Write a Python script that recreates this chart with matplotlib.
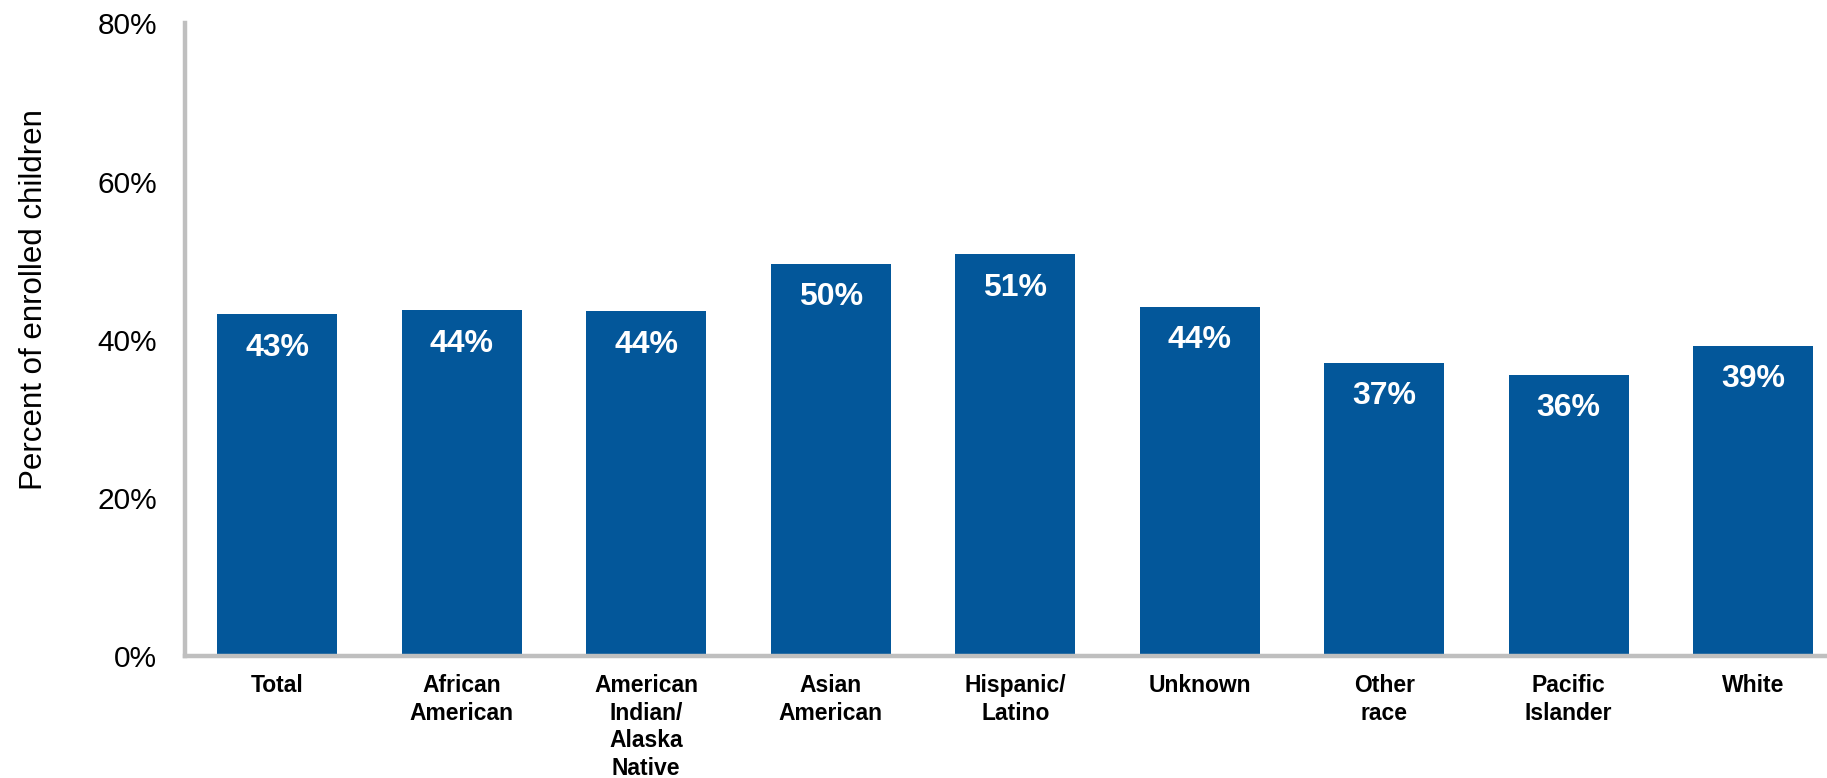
import matplotlib.pyplot as plt
from matplotlib.ticker import FuncFormatter

plt.rcParams["font.family"] = ["Liberation Sans", "DejaVu Sans"]

# Share of enrolled children, by race/ethnicity
categories = [
    "Total",
    "African\nAmerican",
    "American\nIndian/\nAlaska\nNative",
    "Asian\nAmerican",
    "Hispanic/\nLatino",
    "Unknown",
    "Other\nrace",
    "Pacific\nIslander",
    "White",
]
percent = [43.2, 43.7, 43.6, 49.6, 50.8, 44.2, 37.1, 35.6, 39.2]
yticks = [0, 20, 40, 60, 80]

bar_color = "#03579A"
axis_gray = "#BFBFBF"

fig = plt.figure(figsize=(18.27, 7.78), dpi=100)
ax = fig.add_axes([185 / 1827, 0.1568, 1 - 185 / 1827, 0.813])

x = range(len(categories))
bars = ax.bar(x, percent, width=0.65, color=bar_color, zorder=2)

for bar, value in zip(bars, percent):
    ax.annotate(
        f"{value:.0f}%",
        xy=(bar.get_x() + bar.get_width() / 2, value),
        xytext=(0, -24),
        textcoords="offset points",
        ha="center",
        va="center",
        color="white",
        fontsize=23,
        fontweight="bold",
    )

ax.set_xlim(-0.5, 8.4)
ax.set_ylim(0, 80)
ax.set_yticks(yticks)
ax.yaxis.set_major_formatter(FuncFormatter(lambda v, _: f"{v:.0f}%"))
ax.set_xticks(list(x))
ax.set_xticklabels(categories, fontsize=16.5, fontweight="bold", linespacing=1.25, va="top")

ax.tick_params(axis="y", length=0, pad=20, labelsize=21.5)
ax.tick_params(axis="x", length=0, pad=13)

for side in ("top", "right"):
    ax.spines[side].set_visible(False)
for side in ("left", "bottom"):
    ax.spines[side].set_color(axis_gray)
    ax.spines[side].set_linewidth(3.2)

ax.set_ylabel("Percent of enrolled children", fontsize=22.5)
ax.yaxis.set_label_coords(-0.083, 0.563)

fig.savefig("out.png", dpi=100)
